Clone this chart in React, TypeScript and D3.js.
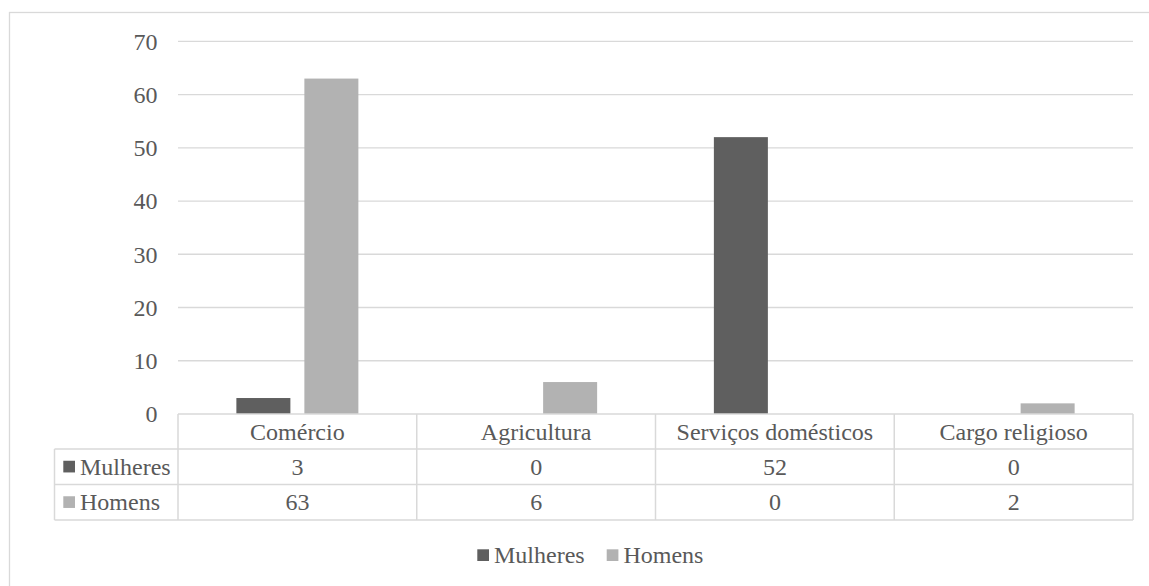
import React, { useRef, useEffect } from 'react'
import * as d3 from 'd3'

// data
const categories = ['Comércio', 'Agricultura', 'Serviços domésticos', 'Cargo religioso']
const seriesNames = ['Mulheres', 'Homens']
const mulheres = [3, 0, 52, 0]
const homens = [63, 6, 0, 2]
const yTicks = [0, 10, 20, 30, 40, 50, 60, 70]

const colors = ['#5f5f5f', '#b2b2b2']
const textColor = '#595959'
const gridColor = '#d9d9d9'
const font = "'Liberation Serif', Tinos, 'Times New Roman', 'Nimbus Roman', 'Noto Serif', FreeSerif, 'DejaVu Serif', serif"

const W = 1149
const H = 586

const App = () => {
  const svgRef = useRef<SVGSVGElement>(null)

  useEffect(() => {
    const svg = d3.select(svgRef.current)
    svg.selectAll('*').remove()

    const values = [mulheres, homens]
    const left = 178
    const right = 1133
    const top = 41.3
    const base = 414
    const rowH = [35, 35.5, 35.5]
    const tableLeft = 54.5

    const x0 = d3.scaleBand().domain(categories).range([left, right]).padding(0)
    const y = d3.scaleLinear().domain([0, 70]).range([base, top])
    const groupW = 122
    const x1 = d3.scaleBand().domain(seriesNames)
      .range([(x0.bandwidth() - groupW) / 2, (x0.bandwidth() + groupW) / 2])
      .paddingInner(14 / 68).paddingOuter(0)

    // chart frame
    svg.append('rect')
      .attr('x', 9.5).attr('y', 12.5)
      .attr('width', 1200).attr('height', 700)
      .attr('fill', 'none').attr('stroke', gridColor).attr('stroke-width', 1.3)

    // gridlines
    svg.append('g').selectAll('line')
      .data(yTicks.filter(t => t > 0))
      .join('line')
      .attr('x1', left).attr('x2', right)
      .attr('y1', d => y(d)).attr('y2', d => y(d))
      .attr('stroke', gridColor).attr('stroke-width', 1.3)

    const txt = svg.append('g')
      .style('font-family', font).style('font-size', '24px')
      .attr('fill', textColor)

    // y labels
    txt.append('g').selectAll('text')
      .data(yTicks)
      .join('text')
      .attr('x', 157.5)
      .attr('y', d => y(d) + 8.3)
      .attr('text-anchor', 'end')
      .text(d => d)

    // bars
    seriesNames.forEach((s, si) => {
      svg.append('g').selectAll('rect')
        .data(values[si])
        .join('rect')
        .attr('x', (d, i) => (x0(categories[i]) as number) + (x1(s) as number))
        .attr('width', x1.bandwidth())
        .attr('y', d => y(d))
        .attr('height', d => base - y(d))
        .attr('fill', colors[si])
    })

    // data table
    const rowTops = [base, base + rowH[0], base + rowH[0] + rowH[1]]
    const tableBottom = rowTops[2] + rowH[2]
    const tbl = svg.append('g')
      .attr('stroke', gridColor).attr('stroke-width', 1.5).attr('fill', 'none')

    tbl.append('line').attr('x1', left).attr('x2', right).attr('y1', base).attr('y2', base)
    rowTops.slice(1).concat([tableBottom]).forEach(yy => {
      tbl.append('line').attr('x1', tableLeft).attr('x2', right).attr('y1', yy).attr('y2', yy)
    })
    tbl.append('line').attr('x1', tableLeft).attr('x2', tableLeft)
      .attr('y1', rowTops[1]).attr('y2', tableBottom)
    categories.forEach(c => {
      const xx = x0(c) as number
      tbl.append('line').attr('x1', xx).attr('x2', xx).attr('y1', base).attr('y2', tableBottom)
    })
    tbl.append('line').attr('x1', right).attr('x2', right).attr('y1', base).attr('y2', tableBottom)

    // category header row
    txt.append('g').selectAll('text')
      .data(categories)
      .join('text')
      .attr('x', d => (x0(d) as number) + x0.bandwidth() / 2)
      .attr('y', rowTops[0] + rowH[0] / 2 + 8)
      .attr('text-anchor', 'middle')
      .text(d => d)

    // series rows
    seriesNames.forEach((s, si) => {
      const cy = rowTops[si + 1] + rowH[si + 1] / 2
      svg.append('rect')
        .attr('x', 63.3).attr('y', cy - 6)
        .attr('width', 11.7).attr('height', 11.7)
        .attr('fill', colors[si])
      txt.append('text')
        .attr('x', 80).attr('y', cy + 8)
        .text(s)
      txt.append('g').selectAll('text')
        .data(values[si])
        .join('text')
        .attr('x', (d, i) => (x0(categories[i]) as number) + x0.bandwidth() / 2)
        .attr('y', cy + 8)
        .attr('text-anchor', 'middle')
        .text(d => d)
    })

    // legend
    const legendX = [477.3, 606.7]
    seriesNames.forEach((s, si) => {
      svg.append('rect')
        .attr('x', legendX[si]).attr('y', 549.3)
        .attr('width', 11.7).attr('height', 11.7)
        .attr('fill', colors[si])
      txt.append('text')
        .attr('x', legendX[si] + 16.7).attr('y', 563)
        .text(s)
    })
  }, [])

  return (
    <svg
      ref={svgRef}
      width={W}
      height={H}
      style={{ position: 'absolute', left: 0, top: 0, background: '#fff' }}
    />
  )
}

export default App
